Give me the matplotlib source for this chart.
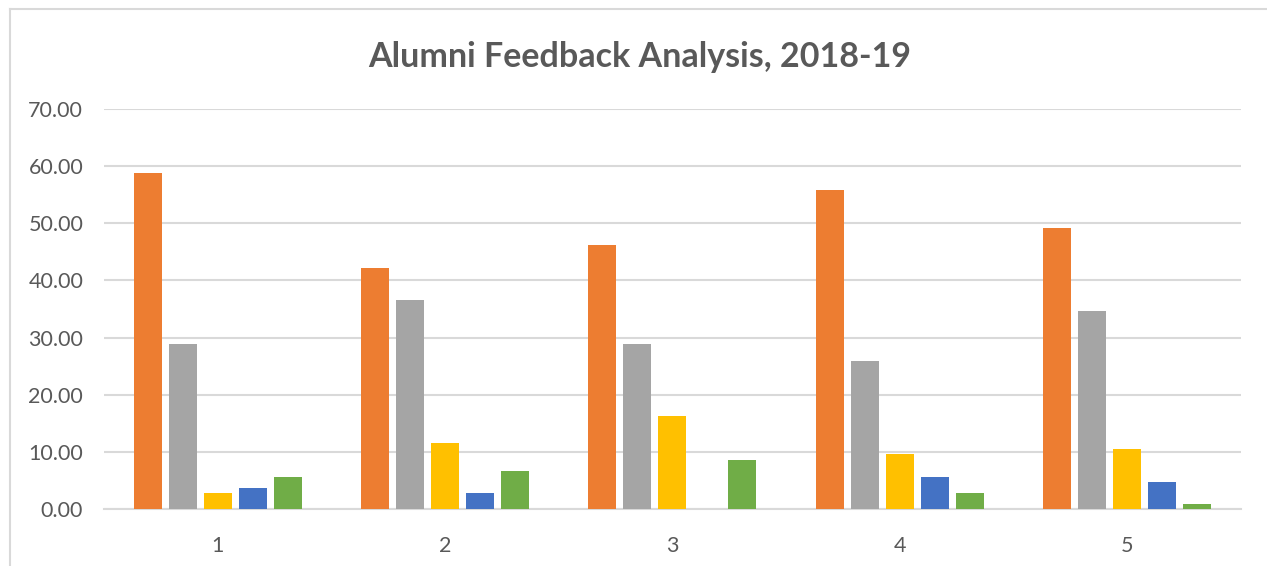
import matplotlib
matplotlib.use("Agg")
import matplotlib.pyplot as plt
from matplotlib.lines import Line2D
import numpy as np

categories = ["1", "2", "3", "4", "5"]
series_a = [58.8, 42.2, 46.2, 55.8, 49.2]   # orange
series_b = [28.9, 36.6, 28.8, 25.9, 34.6]   # gray
series_c = [2.9, 11.5, 16.3, 9.7, 10.5]     # yellow
series_d = [3.8, 2.8, 0.0, 5.7, 4.8]        # blue
series_e = [5.7, 6.7, 8.6, 2.9, 0.9]        # green
series = [series_a, series_b, series_c, series_d, series_e]
colors = ["#ED7D31", "#A5A5A5", "#FFC000", "#4472C4", "#70AD47"]
yticks = [0, 10, 20, 30, 40, 50, 60, 70]
title = "Alumni Feedback Analysis, 2018-19"

W, H = 1267, 566
fig = plt.figure(figsize=(W / 100, H / 100), dpi=100)
ax = fig.add_axes([104 / W, 1 - 509.3 / H, (1240.5 - 104) / W, (509.3 - 108.7) / H])

x = np.arange(1, len(categories) + 1)
pitch = 0.154
width = 0.123
for i, (vals, c) in enumerate(zip(series, colors)):
    ax.bar(x + (i - 2) * pitch, vals, width=width, color=c, zorder=3)

ax.set_xlim(0.5, 5.5)
ax.set_ylim(0, 70)
ax.set_yticks(yticks)
ax.set_yticklabels([f"{v:.2f}" for v in yticks])
ax.set_xticks(x)
ax.set_xticklabels(categories)
ax.grid(axis="y", color="#D9D9D9", linewidth=1.5, zorder=0)
for s in ["top", "right", "left"]:
    ax.spines[s].set_visible(False)
ax.spines["bottom"].set_color("#D9D9D9")
ax.spines["bottom"].set_linewidth(1.5)
ax.tick_params(axis="both", length=0, colors="#595959", labelsize=15.5)
ax.tick_params(axis="y", pad=15)
ax.tick_params(axis="x", pad=19)
for lbl in ax.get_xticklabels() + ax.get_yticklabels():
    lbl.set_fontfamily("Lato")

fig.text(640 / W, 1 - 57 / H, title, ha="center", va="center",
         fontsize=24.5, fontweight="bold", color="#595959", family="Lato")

# chart area border (top and left visible)
fig.add_artist(Line2D([9.5 / W, 9.5 / W], [0, 1 - 9 / H], transform=fig.transFigure,
                      color="#D9D9D9", linewidth=1.5))
fig.add_artist(Line2D([9.5 / W, 1], [1 - 9 / H, 1 - 9 / H], transform=fig.transFigure,
                      color="#D9D9D9", linewidth=1.5))

fig.savefig("out.png", dpi=100)
